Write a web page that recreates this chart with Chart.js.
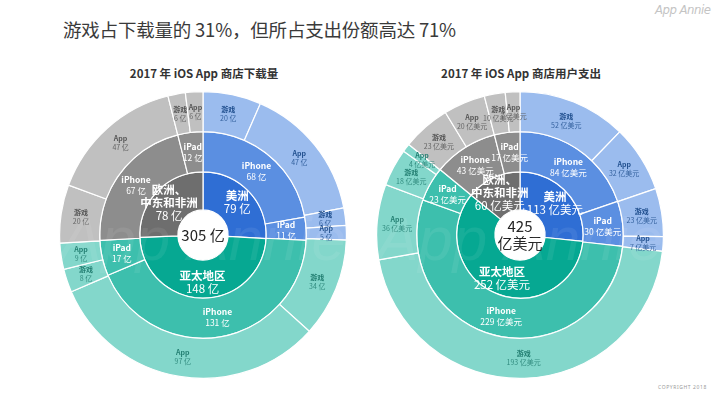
<!DOCTYPE html>
<html><head><meta charset="utf-8">
<script src="https://cdn.jsdelivr.net/npm/chart.js@4.4.1/dist/chart.umd.min.js"></script>
<style>
html,body{margin:0;padding:0;background:#fff;width:720px;height:398px;overflow:hidden;font-family:"Noto Sans CJK SC","Noto Sans",sans-serif;}
#title{position:absolute;left:63px;top:16px;font-size:18.5px;color:#3a3a3a;white-space:nowrap;letter-spacing:-0.2px;}
.sub{position:absolute;top:65px;width:300px;text-align:center;font-size:11.5px;font-weight:bold;color:#333;}
#logo{position:absolute;left:655px;top:2px;font-family:"Liberation Sans Narrow","DejaVu Sans Condensed",sans-serif;font-style:italic;font-size:13px;color:#c4c4c4;letter-spacing:-0.5px;}
#copy{position:absolute;left:658px;top:384px;font-size:5px;color:#9a9a9a;letter-spacing:0.6px;font-family:"Noto Sans",sans-serif;}
.box{position:absolute;top:91px;width:288px;height:288px;}
</style></head>
<body>
<div id="title">游戏占下载量的 31%，但所占支出份额高达 71%</div>
<div class="sub" style="left:54px">2017 年 iOS App 商店下载量</div>
<div class="sub" style="left:371px">2017 年 iOS App 商店用户支出</div>
<div id="logo">App Annie</div>
<div id="copy">COPYRIGHT 2018</div>
<div class="box" style="left:59px"><canvas id="c1" width="288" height="288"></canvas></div>
<div class="box" style="left:376px"><canvas id="c2" width="288" height="288"></canvas></div>
<script>
// ---- data ----
const regions = ['美洲', '亚太地区', '欧洲、\n中东和非洲'];
const deviceLabels = ['iPhone', 'iPad', 'iPhone', 'iPad', 'iPhone', 'iPad'];
const typeLabels = ['游戏', 'App', '游戏', 'App', '游戏', 'App', '游戏', 'App', '游戏', 'App', '游戏', 'App'];

const dlRegion = [79, 148, 78];
const dlDevice = [68, 11, 131, 17, 67, 12];
const dlType = [20, 47, 6, 5, 34, 97, 8, 9, 20, 47, 6, 6];
const dlTotal = '305 亿';
const dlUnit = ' 亿';

const revRegion = [113, 252, 60];
const revDevice = [84, 30, 229, 23, 43, 17];
const revType = [52, 32, 23, 7, 193, 36, 18, 4, 23, 20, 10, 7];
const revTotal = '425\n亿美元';
const revUnit = ' 亿美元';

// ---- styles ----
const regionCol = ['#2f6ed4', '#06a892', '#6e6e6e'];
const deviceCol = ['#5b8fe1', '#5b8fe1', '#3dbfad', '#3dbfad', '#8d8d8d', '#8d8d8d'];
const typeCol = ['#9bbcee', '#9bbcee', '#9bbcee', '#9bbcee', '#83d7cb', '#83d7cb', '#83d7cb', '#83d7cb', '#c0c0c0', '#c0c0c0', '#c0c0c0', '#c0c0c0'];
const typeText = ['#21508f', '#21508f', '#21508f', '#21508f', '#237f72', '#237f72', '#237f72', '#237f72', '#555555', '#555555', '#555555', '#555555'];

const FONT = '"Noto Sans CJK SC","Noto Sans",sans-serif';

const labelPlugin = {
  id: 'arcLabels',
  afterDatasetsDraw(chart, args, opts) {
    const ctx = chart.ctx;
    ctx.save();
    ctx.textAlign = 'center';
    ctx.textBaseline = 'middle';
    chart.data.datasets.forEach((ds, di) => {
      const meta = chart.getDatasetMeta(di);
      meta.data.forEach((arc, i) => {
        const p = arc.getProps(['x', 'y', 'startAngle', 'endAngle', 'innerRadius', 'outerRadius'], true);
        const a = (p.startAngle + p.endAngle) / 2;
        let r = (p.innerRadius + p.outerRadius) / 2;
        if (ds.level === 0) r += 3;
        const x = p.x + Math.cos(a) * r;
        const y = p.y + Math.sin(a) * r;
        const names = ds.names[i].split('\n');
        const lines = names.concat([ds.data[i] + opts.unit]);
        let fs, col, lh;
        if (ds.level === 0) { fs = 11.5; col = '#ffffff'; lh = 13; }
        else if (ds.level === 1) { fs = 8.5; col = '#ffffff'; lh = 11; }
        else { fs = 7; col = typeText[i]; lh = 9; }
        const y0 = y - (lines.length - 1) * lh / 2;
        lines.forEach((t, k) => {
          const bold = k < names.length;
          ctx.font = (bold ? 'bold ' : '') + fs + 'px ' + FONT;
          ctx.fillStyle = col;
          if (!bold && ds.level === 2) ctx.globalAlpha = 0.85;
          ctx.fillText(t, x, y0 + k * lh);
          ctx.globalAlpha = 1;
        });
      });
    });
    // center text
    const m = chart.getDatasetMeta(0).data[0];
    const cx = m.x, cy = m.y;
    ctx.fillStyle = '#222';
    ctx.font = '15px ' + FONT;
    const tl = opts.center.split('\n');
    tl.forEach((t, k) => ctx.fillText(t, cx, cy + (k - (tl.length - 1) / 2) * 17));
    // faint watermark
    ctx.globalAlpha = 0.07;
    ctx.fillStyle = '#ffffff';
    ctx.font = 'italic 62px "Liberation Sans Narrow",sans-serif';
    ctx.fillText('App Annie', cx, cy + 8);
    ctx.restore();
  }
};

function makeChart(id, reg, dev, typ, center, unit) {
  new Chart(document.getElementById(id), {
    type: 'doughnut',
    data: {
      datasets: [
        { data: typ, names: typeLabels, level: 2, backgroundColor: typeCol, borderColor: '#ffffff', borderWidth: 1.2 },
        { data: dev, names: deviceLabels, level: 1, backgroundColor: deviceCol, borderColor: '#ffffff', borderWidth: 1.2 },
        { data: reg, names: regions, level: 0, backgroundColor: regionCol, borderColor: '#ffffff', borderWidth: 1.2, weight: 0.95 }
      ]
    },
    options: {
      responsive: false,
      animation: false,
      cutout: '17.5%',
      layout: { padding: 0 },
      plugins: { legend: { display: false }, tooltip: { enabled: false },
        arcLabels: { center: center, unit: unit } }
    },
    plugins: [labelPlugin]
  });
}
makeChart('c1', dlRegion, dlDevice, dlType, dlTotal, dlUnit);
makeChart('c2', revRegion, revDevice, revType, revTotal, revUnit);
</script>
</body></html>
